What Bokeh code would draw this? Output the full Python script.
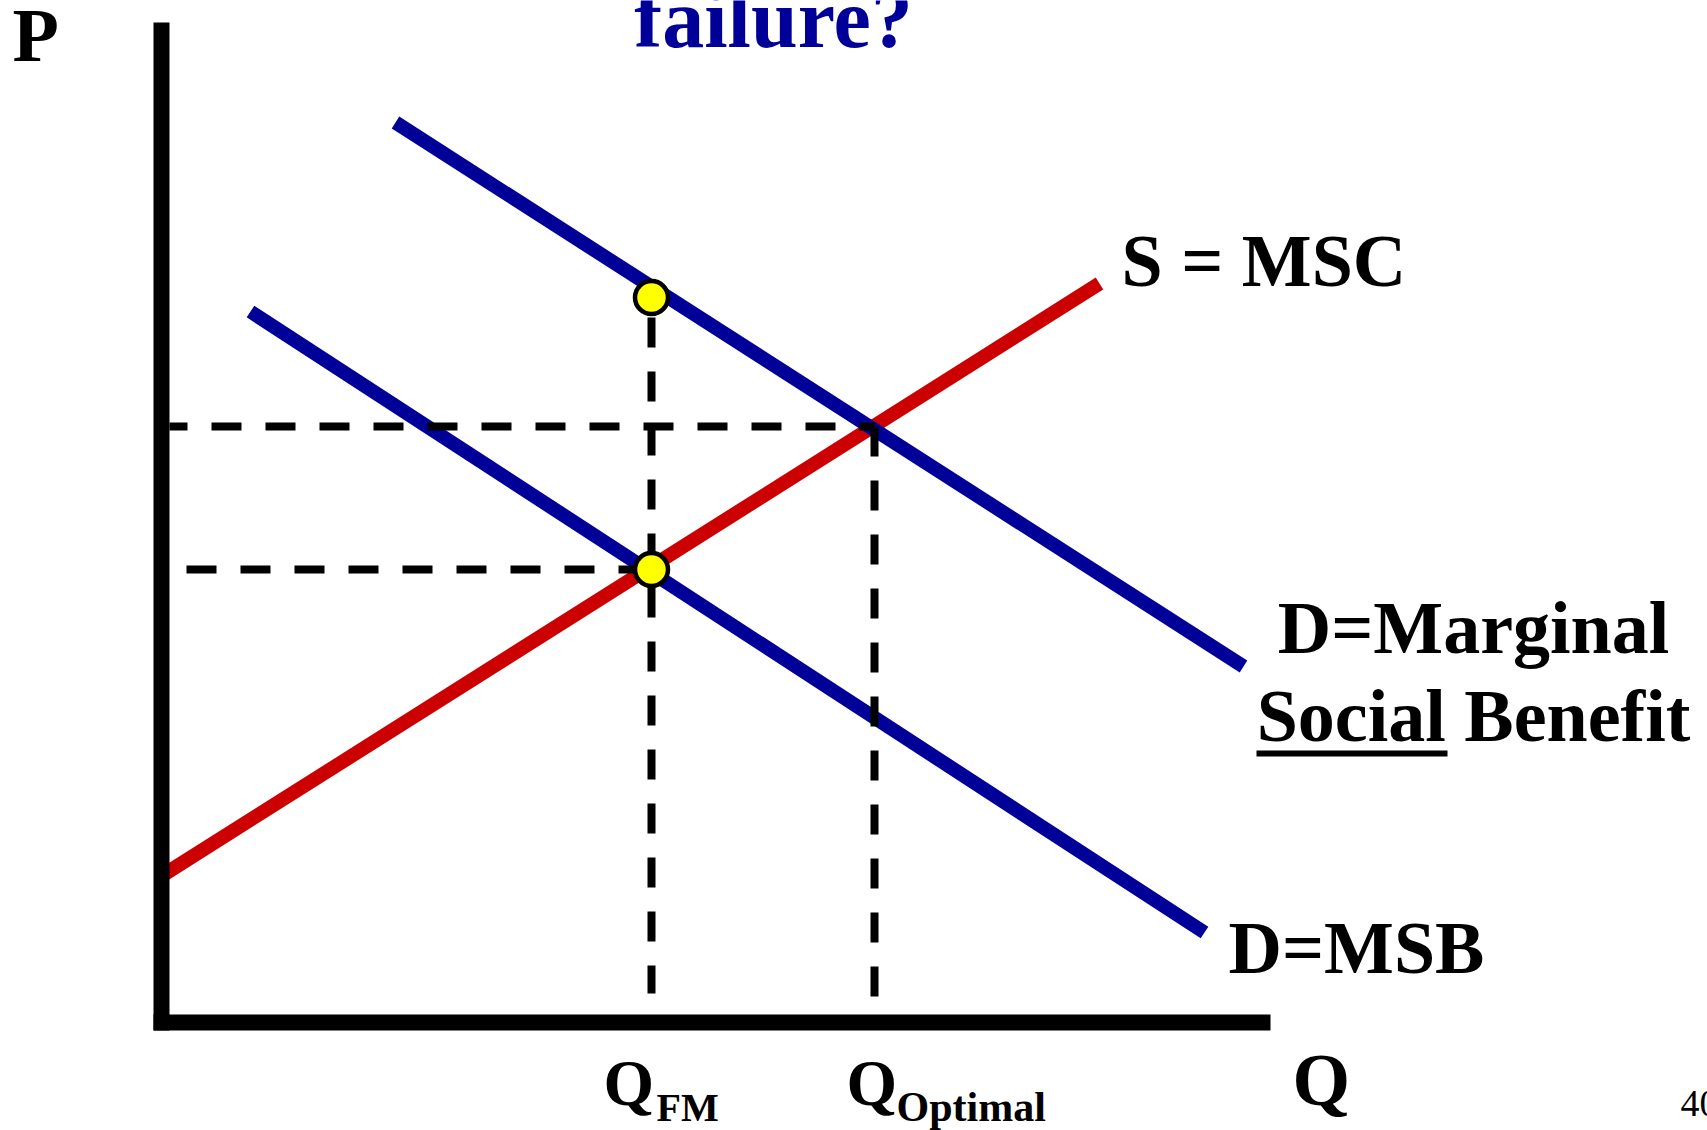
from bokeh.plotting import figure
from bokeh.models import Range1d
from bokeh.core.properties import value
from bokeh.embed import file_html
from bokeh.resources import INLINE

# ---------------- data (Q, P units) ----------------
q_fm = 4.90          # free-market quantity
q_opt = 7.13         # optimal quantity
p_fm = 4.53          # free-market price
p_opt = 5.96         # optimal price
p_msb_at_fm = 7.25   # marginal social benefit at Q_FM

msc_q = [0.04, 9.38]
msc_p = [1.49, 7.39]

msb_social_q = [2.34, 10.82]
msb_social_p = [9.00, 3.56]

msb_q = [0.89, 10.43]
msb_p = [7.11, 0.90]

axis_start = -0.08
q_max = 11.09
p_max = 10.0

dash_h_start = [0.08, 0.25]        # where the horizontal guides start
dash_v_end = [0.29, 0.23]          # where the vertical guides end (Q_FM, Q_opt)

title_text = "failure?"
curve_labels = ["S = MSC", "D=MSB"]
msb_social_labels = ["D=Marginal", "Social Benefit"]
axis_labels = ["P", "Q"]
q_marks = ["Q", "Q"]
q_subs = ["FM", "Optimal"]
page_number = "40"

# ---------------- figure ----------------
W, H = 1707, 1130
PX = 100.0
ox, oy = 161.0, 1022.0   # canvas pixel of the origin
p = figure(width=W, height=H,
           x_range=Range1d(-ox / PX, (W - ox) / PX),
           y_range=Range1d((oy - H) / PX, oy / PX),
           output_backend="svg", toolbar_location=None,
           x_axis_type=None, y_axis_type=None, min_border=0)
p.outline_line_color = None
p.background_fill_color = "white"
p.border_fill_color = "white"
p.grid.visible = False

SERIF = value("Liberation Serif")
BLUE = "#000099"
RED = "#CC0000"

# curves
p.line(msc_q, msc_p, line_color=RED, line_width=14, line_cap="butt")
p.line(msb_social_q, msb_social_p, line_color=BLUE, line_width=14, line_cap="butt")
p.line(msb_q, msb_p, line_color=BLUE, line_width=14, line_cap="butt")

# dashed guides
p.line([dash_h_start[0], q_opt], [p_opt, p_opt], line_color="black", line_width=8,
       line_dash="30 24", line_dash_offset=12, line_cap="butt")
p.line([dash_h_start[1], q_fm], [p_fm, p_fm], line_color="black", line_width=8,
       line_dash="30 24", line_cap="butt")
p.line([q_fm, q_fm], [p_msb_at_fm, dash_v_end[0]], line_color="black", line_width=8,
       line_dash="30 24", line_dash_offset=34, line_cap="butt")
p.line([q_opt, q_opt], [p_opt, dash_v_end[1]], line_color="black", line_width=8,
       line_dash="30 24", line_cap="butt")

# axes
p.line([0, 0], [axis_start, p_max], line_color="black", line_width=16, line_cap="butt")
p.line([axis_start, q_max], [0, 0], line_color="black", line_width=16, line_cap="butt")

# points
p.scatter([q_fm, q_fm], [p_msb_at_fm, p_fm], size=33, fill_color="#FFFF00",
          line_color="black", line_width=4.5)

def txt(x, y_base, t, size, align="left", color="black", style="bold"):
    # shift so that the glyphs' alphabetic baseline lands on y_base
    y = y_base + 0.335 * size / PX
    p.text(x=[x], y=[y], text=[t], text_font=SERIF, text_font_size=f"{size}px",
           text_font_style=style, text_color=color, text_align=align,
           text_baseline="alphabetic")

txt(6.12, 9.76, title_text, 84, align="center", color=BLUE)
txt(-1.49, 9.62, axis_labels[0], 76)
txt(11.31, -0.82, axis_labels[1], 74)
txt(9.60, 7.37, curve_labels[0], 74)
txt(10.67, 0.50, curve_labels[1], 74)
txt(13.12, 3.70, msb_social_labels[0], 74, align="center")
txt(13.12, 2.82, msb_social_labels[1], 74, align="center")
p.line([10.95, 12.86], [2.69, 2.69], line_color="black", line_width=6, line_cap="butt")

txt(4.42, -0.82, q_marks[0], 65)
txt(4.95, -0.985, q_subs[0], 40)
txt(6.85, -0.82, q_marks[1], 65)
txt(7.35, -0.99, q_subs[1], 42)

txt(15.19, -0.94, page_number, 38, style="normal")

open("out.html", "w").write(file_html(p, INLINE))
